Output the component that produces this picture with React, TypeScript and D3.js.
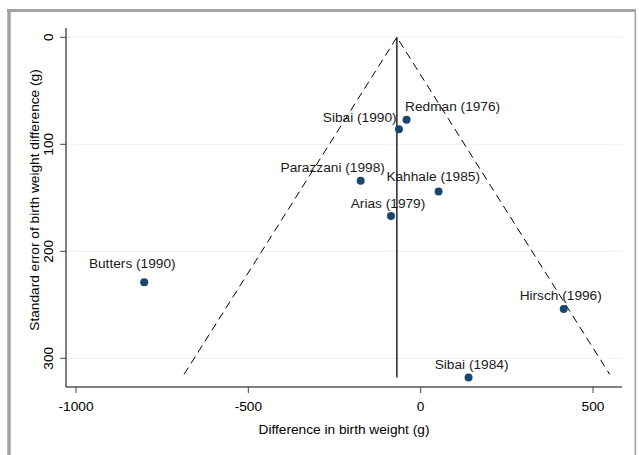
import { useMemo } from "react";
import * as d3 from "d3";

const width = 639;
const height = 455;
// plot region (Stata style)
const plot = { left: 66, right: 622, top: 28, bottom: 387 };

// data
const studies = [
  "Redman (1976)",
  "Arias (1979)",
  "Sibai (1984)",
  "Kahhale (1985)",
  "Butters (1990)",
  "Sibai (1990)",
  "Hirsch (1996)",
  "Parazzani (1998)",
];
const diffs = [-41, -86, 139, 52, -802, -63, 415, -174];
const stdErrs = [77, 167, 318, 144, 229, 86, 254, 134];
const pooled = -69;
const funnelSE = 315;

const xTicks = [-1000, -500, 0, 500];
const yTicks = [0, 100, 200, 300];

// label placement (layout only)
const labelPlacement: Record<string, { anchor: string; dx: number; dy: number }> = {
  "Redman (1976)": { anchor: "start", dx: -1.5, dy: -8.6 },
  "Arias (1979)": { anchor: "middle", dx: -3, dy: -8.4 },
  "Sibai (1984)": { anchor: "middle", dx: 3, dy: -9 },
  "Kahhale (1985)": { anchor: "middle", dx: -5.4, dy: -10 },
  "Butters (1990)": { anchor: "middle", dx: -12, dy: -14 },
  "Sibai (1990)": { anchor: "end", dx: -2.3, dy: -7.3 },
  "Hirsch (1996)": { anchor: "middle", dx: -3, dy: -8.6 },
  "Parazzani (1998)": { anchor: "middle", dx: -28, dy: -8.6 },
};

const font = "'Liberation Sans', Arial, sans-serif";
const fs = 13.7;

const App = () => {
  const { xScale, yScale, points } = useMemo(() => {
    const xScale = d3.scaleLinear().domain([-1000, 500]).range([76, 593]);
    const yScale = d3.scaleLinear().domain([0, 300]).range([37.3, 358.3]);
    const points = studies.map((s, i) => ({
      name: s,
      x: xScale(diffs[i]),
      y: yScale(stdErrs[i]),
    }));
    return { xScale, yScale, points };
  }, []);

  const seMax = d3.max(stdErrs) as number;
  const funnel = d3.line<[number, number]>()
    .x((d) => xScale(d[0]))
    .y((d) => yScale(d[1]));

  return (
    <svg
      width={width}
      height={height}
      style={{ position: "absolute", left: 0, top: 0, background: "#fff" }}
      fontFamily={font}
    >
      {/* graph region frame */}
      <line x1={7} x2={636} y1={10.5} y2={10.5} stroke="#a3a3a3" strokeWidth={3} />
      <line x1={9} x2={9} y1={9} y2={height} stroke="#a3a3a3" strokeWidth={3.5} />
      <line x1={635.3} x2={635.3} y1={9} y2={height} stroke="#a3a3a3" strokeWidth={1.6} />

      {/* gridlines */}
      {yTicks.map((t) => (
        <line
          key={"g" + t}
          x1={plot.left}
          x2={plot.right}
          y1={yScale(t)}
          y2={yScale(t)}
          stroke="#eaf2f3"
          strokeWidth={1}
        />
      ))}

      {/* funnel */}
      <path
        d={funnel([
          [pooled - 1.96 * funnelSE, funnelSE],
          [pooled, 0],
          [pooled + 1.96 * funnelSE, funnelSE],
        ]) as string}
        fill="none"
        stroke="#000"
        strokeWidth={1}
        strokeDasharray="8,5"
      />
      <line
        x1={xScale(pooled)}
        x2={xScale(pooled)}
        y1={yScale(0)}
        y2={yScale(seMax)}
        stroke="#000"
        strokeWidth={1.3}
      />

      {/* axes */}
      <line x1={plot.left} x2={plot.left} y1={plot.top} y2={plot.bottom} stroke="#000" strokeWidth={1} />
      <line x1={plot.left} x2={plot.right} y1={plot.bottom} y2={plot.bottom} stroke="#000" strokeWidth={1} />
      {xTicks.map((t) => (
        <g key={"x" + t}>
          <line x1={xScale(t)} x2={xScale(t)} y1={plot.bottom} y2={plot.bottom + 6} stroke="#444" />
          <text x={xScale(t)} y={410.7} textAnchor="middle" fontSize={fs} fill="#000">
            {t}
          </text>
        </g>
      ))}
      {yTicks.map((t) => (
        <g key={"y" + t}>
          <line x1={plot.left - 6} x2={plot.left} y1={yScale(t)} y2={yScale(t)} stroke="#444" />
          <text
            transform={`translate(53.3, ${yScale(t)}) rotate(-90)`}
            textAnchor="middle"
            fontSize={fs}
            fill="#000"
          >
            {t}
          </text>
        </g>
      ))}

      {/* axis titles */}
      <text x={344} y={434} textAnchor="middle" fontSize={fs} fill="#000">
        Difference in birth weight (g)
      </text>
      <text
        transform="translate(38.5, 200) rotate(-90)"
        textAnchor="middle"
        fontSize={fs}
        fill="#000"
      >
        Standard error of birth weight difference (g)
      </text>

      {/* points and labels */}
      {points.map((p) => {
        const lp = labelPlacement[p.name];
        return (
          <g key={p.name}>
            <circle cx={p.x} cy={p.y} r={4} fill="#1a476f" />
            <text
              x={p.x + lp.dx}
              y={p.y + lp.dy}
              textAnchor={lp.anchor}
              fontSize={fs}
              fill="#1a1a1a"
            >
              {p.name}
            </text>
          </g>
        );
      })}
    </svg>
  );
};

export default App;
